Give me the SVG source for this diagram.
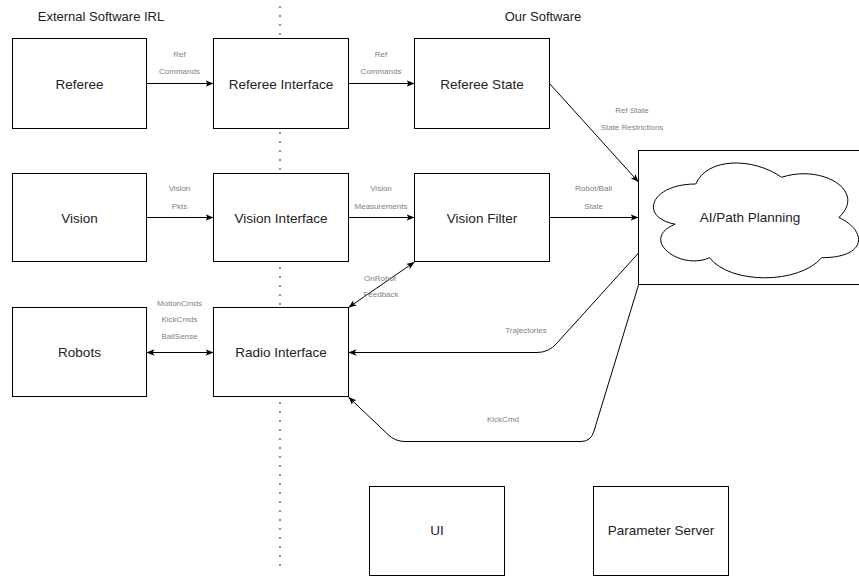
<svg xmlns="http://www.w3.org/2000/svg" width="859" height="576" viewBox="0 0 859 576">
<style>
.box{fill:#fff;stroke:#000;stroke-width:1}
.lbl{font-family:"Liberation Sans",Arial,sans-serif;font-size:13.5px;fill:#222;text-anchor:middle}
.title{font-family:"Liberation Sans",Arial,sans-serif;font-size:13px;fill:#222;text-anchor:middle}
.el{font-family:"Liberation Sans",Arial,sans-serif;font-size:8px;fill:#808080;text-anchor:middle}
.edge{fill:none;stroke:#000;stroke-width:1}
.arr{marker-end:url(#ah)}
.bi{marker-start:url(#ah);marker-end:url(#ah)}
</style>
<defs>
<marker id="ah" viewBox="0 0 10 10" markerWidth="8" markerHeight="8" refX="10" refY="5" orient="auto-start-reverse" markerUnits="userSpaceOnUse">
<path d="M0,1 L10,5 L0,9 L2.5,5 Z" fill="#000"/>
</marker>
</defs>
<rect width="859" height="576" fill="#fff"/>
<g id="divider">
<line x1="280" y1="7" x2="280" y2="566" stroke="#000" stroke-width="1.6" stroke-linecap="round" stroke-dasharray="0 9"/>
</g>
<g id="titles">
<text class="title" x="101" y="21">External Software IRL</text>
<text class="title" x="543" y="21">Our Software</text>
</g>
<g id="referee"><rect class="box" x="12.5" y="38.5" width="134" height="90"/><text class="lbl" x="79.5" y="88.5">Referee</text></g>
<g id="referee-interface"><rect class="box" x="213.5" y="38.5" width="135" height="90"/><text class="lbl" x="281" y="88.5">Referee Interface</text></g>
<g id="referee-state"><rect class="box" x="414.5" y="38.5" width="135" height="90"/><text class="lbl" x="482" y="88.5">Referee State</text></g>
<g id="vision"><rect class="box" x="12.5" y="173.5" width="134" height="88"/><text class="lbl" x="79.5" y="222.5">Vision</text></g>
<g id="vision-interface"><rect class="box" x="213.5" y="173.5" width="135" height="88"/><text class="lbl" x="281" y="222.5">Vision Interface</text></g>
<g id="vision-filter"><rect class="box" x="414.5" y="173.5" width="135" height="88"/><text class="lbl" x="482" y="222.5">Vision Filter</text></g>
<g id="robots"><rect class="box" x="12.5" y="307.5" width="134" height="89"/><text class="lbl" x="79.5" y="357">Robots</text></g>
<g id="radio-interface"><rect class="box" x="213.5" y="307.5" width="135" height="89"/><text class="lbl" x="281" y="357">Radio Interface</text></g>
<g id="ui"><rect class="box" x="369.5" y="486.5" width="135" height="89"/><text class="lbl" x="437" y="535">UI</text></g>
<g id="parameter-server"><rect class="box" x="593.5" y="486.5" width="135" height="89"/><text class="lbl" x="661" y="535">Parameter Server</text></g>
<g id="ai-path-planning">
<rect class="box" x="638.5" y="150.5" width="229" height="134"/>
<path class="box" d="M695.75,184 C649.95,184 638.5,217.5 675.14,224.2 C638.5,238.94 679.72,271.1 709.49,257.7 C730.1,284.5 798.8,284.5 821.7,257.7 C867.5,257.7 867.5,230.9 838.88,217.5 C867.5,190.7 821.7,163.9 781.63,177.3 C753.0,157.2 707.2,157.2 695.75,184 Z"/>
<text class="lbl" x="750" y="222">AI/Path Planning</text>
</g>
<g id="connectors">
<path class="edge arr" d="M146.5,83.5 H213.5"/>
<path class="edge arr" d="M348.5,83.5 H414.5"/>
<path class="edge arr" d="M549.5,83.5 L638.5,182"/>
<path class="edge arr" d="M146.5,217.5 H213.5"/>
<path class="edge arr" d="M348.5,217.5 H414.5"/>
<path class="edge arr" d="M549.5,217.5 H638.5"/>
<path class="edge bi" d="M348.5,307.5 L414.5,262"/>
<path class="edge bi" d="M146.5,352.5 H213.5"/>
<path class="edge arr" d="M638.5,253 L557,343 Q549,352.5 537,352.5 H348.5"/>
<path class="edge arr" d="M638.5,285 L594,431 Q591,441.5 581,441.5 H405 Q395,441.5 388,434.5 L348.5,397"/>
</g>
<g id="edge-labels">
<text class="el" x="179.5" y="57">Ref</text><text class="el" x="179.5" y="74">Commands</text>
<text class="el" x="381" y="57">Ref</text><text class="el" x="381" y="74">Commands</text>
<text class="el" x="632" y="113">Ref State</text><text class="el" x="632" y="130">State Restrictions</text>
<text class="el" x="179.5" y="191">Vision</text><text class="el" x="179.5" y="209">Pkts</text>
<text class="el" x="381" y="191">Vision</text><text class="el" x="381" y="209">Measurements</text>
<text class="el" x="593.5" y="191">Robot/Ball</text><text class="el" x="593.5" y="209">State</text>
<text class="el" x="380" y="281">OnRobot</text><text class="el" x="381" y="297">Feedback</text>
<text class="el" x="179.5" y="306">MotionCmds</text><text class="el" x="179.5" y="322">KickCmds</text><text class="el" x="179.5" y="339">BallSense</text>
<text class="el" x="526" y="333">Trajectories</text>
<text class="el" x="503" y="422">KickCmd</text>
</g>
</svg>
